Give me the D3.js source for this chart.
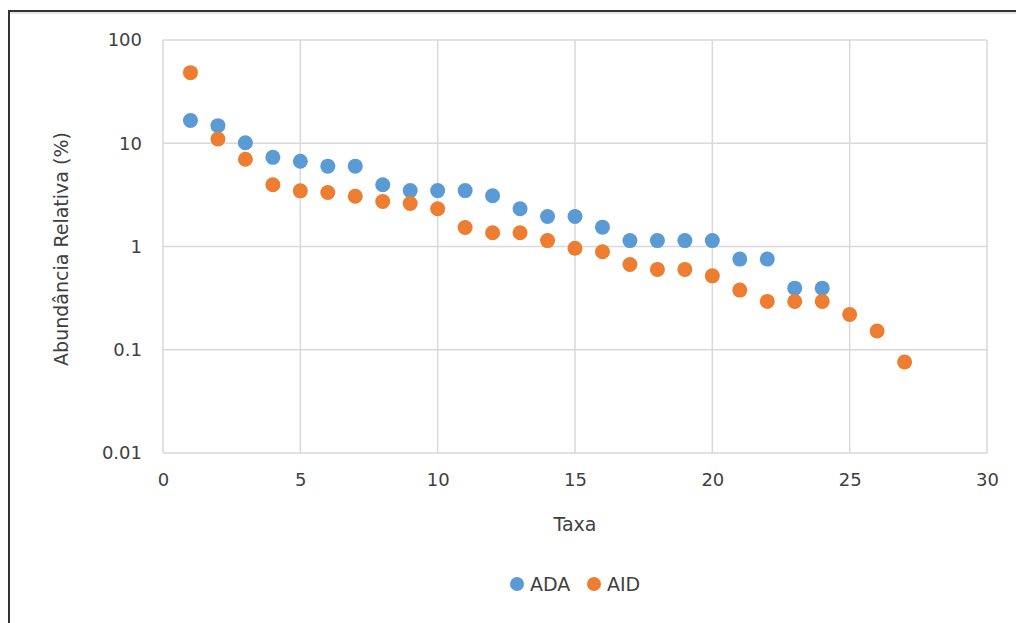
<!DOCTYPE html>
<html>
<head>
<meta charset="utf-8">
<script src="https://cdn.jsdelivr.net/npm/d3@7"></script>
<style>
	body { margin: 0; background: #fff; }
	text { font-family: "DejaVu Sans", Verdana, sans-serif; fill: #404040; }
</style>
</head>
<body>
<script>
// dados (abundancia relativa em %)
var taxaADA = [1,2,3,4,5,6,7,8,9,10,11,12,13,14,15,16,17,18,19,20,21,22,23,24];
var valoresADA = [16.6,14.8,10.1,7.3,6.7,6.0,6.0,3.96,3.48,3.48,3.48,3.1,2.32,1.95,1.95,1.54,1.14,1.14,1.14,1.14,0.755,0.755,0.395,0.395];
var taxaAID = [1,2,3,4,5,6,7,8,9,10,11,12,13,14,15,16,17,18,19,20,21,22,23,24,25,26,27];
var valoresAID = [48.3,11.0,7.0,3.96,3.46,3.33,3.07,2.73,2.61,2.32,1.53,1.36,1.36,1.14,0.96,0.89,0.67,0.60,0.60,0.52,0.378,0.294,0.294,0.294,0.22,0.152,0.076];
var xTicks = [0,5,10,15,20,25,30];
var yTicks = [0.01,0.1,1,10,100];
var yTickLabels = ["0.01","0.1","1","10","100"];
var series = [
	{nome: "ADA", cor: "#5B9BD5", x: taxaADA, y: valoresADA},
	{nome: "AID", cor: "#ED7D31", x: taxaAID, y: valoresAID}
];

(function () {
	var width = 1016, height = 623;
	var left = 163, right = 987, top = 40, bottom = 453;

	var svg = d3.select("body").append("svg")
		.attr("width", width)
		.attr("height", height);

	// moldura
	svg.append("rect").attr("x", 9).attr("y", 11).attr("width", width + 20).attr("height", height + 20)
		.attr("fill", "none").attr("stroke", "#333").attr("stroke-width", 2);
	svg.append("line").attr("x1", 10).attr("x2", width).attr("y1", 13).attr("y2", 13)
		.attr("stroke", "#e6e6e6").attr("stroke-width", 2);

	var x = d3.scaleLinear().domain([0, 30]).range([left, right]);
	var y = d3.scaleLog().domain([0.01, 100]).range([bottom, top]);

	var grid = svg.append("g").attr("class", "grid");
	grid.selectAll(".gx").data(xTicks).enter().append("line")
		.attr("x1", function (d) { return x(d); }).attr("x2", function (d) { return x(d); })
		.attr("y1", top).attr("y2", bottom)
		.attr("stroke", "#d9d9d9").attr("stroke-width", 1.5);
	grid.selectAll(".gy").data(yTicks).enter().append("line")
		.attr("x1", left).attr("x2", right)
		.attr("y1", function (d) { return y(d); }).attr("y2", function (d) { return y(d); })
		.attr("stroke", "#d9d9d9").attr("stroke-width", 1.5);

	// eixos (so os rotulos)
	var xAxis = svg.append("g").attr("transform", "translate(0," + bottom + ")")
		.call(d3.axisBottom(x).tickValues(xTicks).tickSize(0).tickPadding(20));
	var yAxis = svg.append("g").attr("transform", "translate(" + left + ",0)")
		.call(d3.axisLeft(y).tickValues(yTicks).tickSize(0).tickPadding(21)
			.tickFormat(function (d, i) { return yTickLabels[i]; }));
	[xAxis, yAxis].forEach(function (a) {
		a.select(".domain").remove();
		a.selectAll("text").attr("font-size", 18).attr("font-family", null).style("fill", "#404040");
	});

	svg.append("text").attr("x", (left + right) / 2 - 0).attr("y", 531)
		.attr("text-anchor", "middle").attr("font-size", 19).text("Taxa");
	svg.append("text").attr("transform", "translate(68," + 249 + ") rotate(-90)")
		.attr("text-anchor", "middle").attr("font-size", 19).text("Abundância Relativa (%)");

	series.forEach(function (s) {
		svg.append("g").selectAll("circle").data(s.y).enter().append("circle")
			.attr("cx", function (d, i) { return x(s.x[i]); })
			.attr("cy", function (d) { return y(d); })
			.attr("r", 7.5)
			.attr("fill", s.cor);
	});

	// legenda
	var leg = svg.append("g").attr("transform", "translate(517,584)");
	var pos = [0, 77];
	series.forEach(function (s, i) {
		leg.append("circle").attr("cx", pos[i]).attr("cy", 0).attr("r", 7).attr("fill", s.cor);
		leg.append("text").attr("x", pos[i] + 13).attr("y", 7).attr("font-size", 19).text(s.nome);
	});
})();
</script>
</body>
</html>
